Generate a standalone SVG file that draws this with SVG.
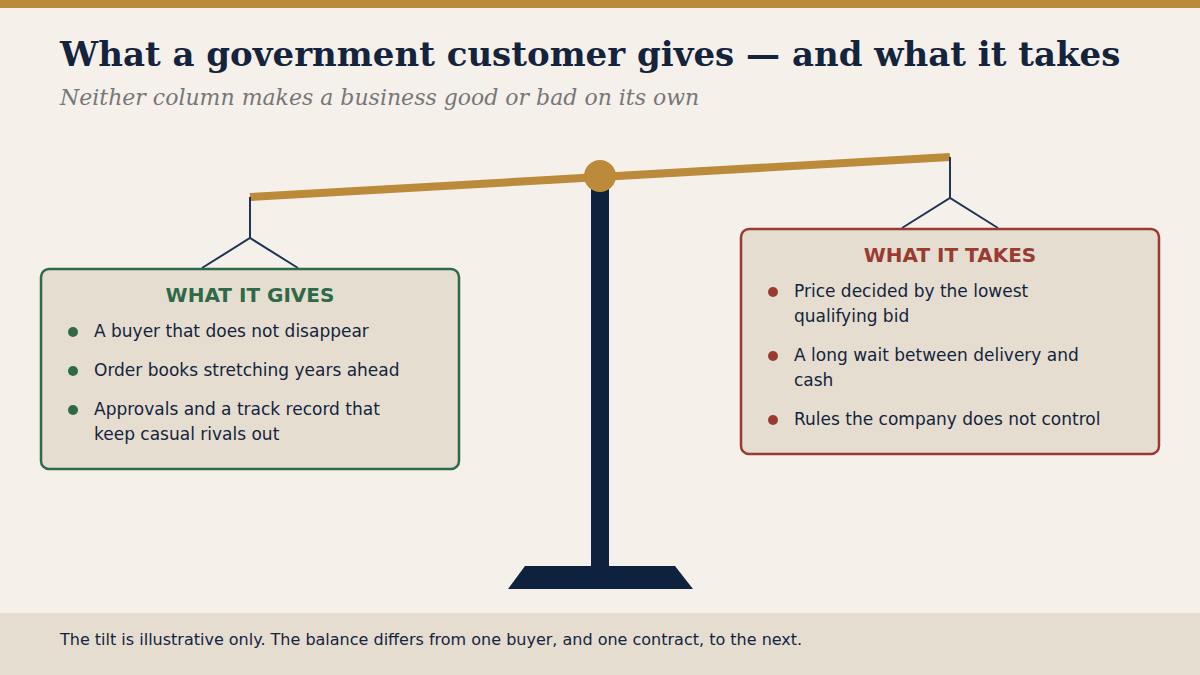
<svg xmlns="http://www.w3.org/2000/svg" width="1200" height="675" viewBox="0 0 1200 675">
<style>
.t{font-family:"DejaVu Sans",sans-serif;font-size:17px;fill:#14243d}
.h{font-family:"DejaVu Sans",sans-serif;font-size:20px;font-weight:bold;text-anchor:middle}
.hang{stroke:#1f3457;stroke-width:2;fill:none}
</style>
<rect width="1200" height="675" fill="#f5f0ea"/>
<rect width="1200" height="8" fill="#bb8a3a"/>
<text x="60" y="66" font-family="DejaVu Serif,serif" font-weight="bold" font-size="34" fill="#14243d">What a government customer gives — and what it takes</text>
<text x="60" y="105" font-family="DejaVu Serif,serif" font-style="italic" font-size="22" fill="#777">Neither column makes a business good or bad on its own</text>
<g id="scale">
<rect x="591" y="176" width="18" height="392" fill="#0f223d"/>
<polygon points="525,566 675,566 693,589 508,589" fill="#0f223d"/>
<line x1="250" y1="197" x2="950" y2="157" stroke="#bb8a3a" stroke-width="8"/>
<circle cx="600" cy="176" r="16" fill="#bb8a3a"/>
</g>
<g id="connectors">
<polyline class="hang" points="250,197 250,238"/>
<polyline class="hang" points="202,268 250,238 298,268"/>
<polyline class="hang" points="950,157 950,198"/>
<polyline class="hang" points="902,228 950,198 998,228"/>
</g>
<g id="gives">
<rect x="41" y="269" width="418" height="200" rx="8" fill="#e5ddd0" stroke="#2f6a48" stroke-width="2.5"/>
<text class="h" x="250" y="302" fill="#2f6a48">WHAT IT GIVES</text>
<g fill="#2f6a48"><circle cx="73" cy="332" r="5"/><circle cx="73" cy="371" r="5"/><circle cx="73" cy="410" r="5"/></g>
<text class="t" x="94" y="337">A buyer that does not disappear</text>
<text class="t" x="94" y="376">Order books stretching years ahead</text>
<text class="t" x="94" y="415">Approvals and a track record that</text>
<text class="t" x="94" y="440">keep casual rivals out</text>
</g>
<g id="takes">
<rect x="741" y="229" width="418" height="225" rx="8" fill="#e5ddd0" stroke="#9a3b32" stroke-width="2.5"/>
<text class="h" x="950" y="262" fill="#9a3b32">WHAT IT TAKES</text>
<g fill="#9a3b32"><circle cx="773" cy="292" r="5"/><circle cx="773" cy="356" r="5"/><circle cx="773" cy="420" r="5"/></g>
<text class="t" x="794" y="297">Price decided by the lowest</text>
<text class="t" x="794" y="322">qualifying bid</text>
<text class="t" x="794" y="361">A long wait between delivery and</text>
<text class="t" x="794" y="386">cash</text>
<text class="t" x="794" y="425">Rules the company does not control</text>
</g>
<rect y="613" width="1200" height="62" fill="#e5ddd0"/>
<text class="t" x="60" y="645" font-size="16" style="font-size:16px">The tilt is illustrative only. The balance differs from one buyer, and one contract, to the next.</text>
</svg>
